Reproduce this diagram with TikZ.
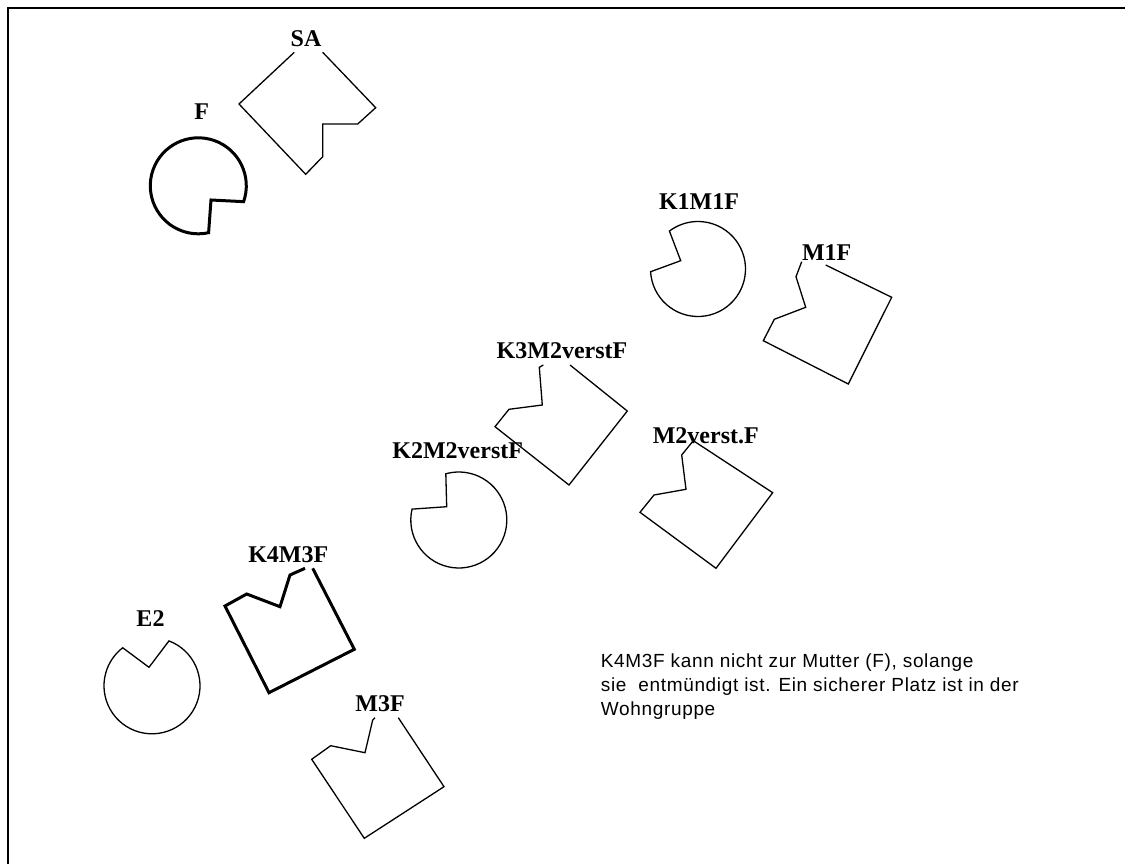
\documentclass[tikz,border=0pt]{standalone}
\usepackage{fontspec}
\setmainfont{Liberation Serif}
\newfontfamily\notefont{Liberation Sans}[LetterSpace=3.5]
\tikzset{
  lbl/.style={inner sep=0pt, anchor=base, font=\bfseries\fontsize{24}{24}\selectfont},
  note/.style={inner sep=0pt, anchor=base west, font=\notefont\fontsize{19}{24}\selectfont},
  thinline/.style={draw=black, line width=1.3pt, line join=miter},
  thickline/.style={draw=black, line width=3pt, line join=miter},
  frameline/.style={draw=black, line width=2pt}
}
\begin{document}
\begin{tikzpicture}[x=1pt, y=-1pt]
\useasboundingbox (0,0) rectangle (1125,864);
\fill[white] (0,0) rectangle (1125,864);

% frame (only top and left edges lie inside the page)
\draw[frameline] (7.7,870) -- (7.7,7.7) -- (1130,7.7);

% --- persons: circles with a notch ---
% F
\path[thickline] (198.3,185.8) ++(19.3:48) arc[start angle=19.3, end angle=-282.4, radius=48]
  -- (211,200) -- cycle;
% K1M1F
\path[thinline] (698,269) ++(176.7:47.5) arc[start angle=176.7, end angle=-127, radius=47.5]
  -- (680.7,260.7) -- cycle;
% K2M2verstF
\path[thinline] (458.8,520) ++(193.1:48) arc[start angle=193.1, end angle=-105.7, radius=48]
  -- (446.7,506.7) -- cycle;
% E2
\path[thinline] (152,685.8) ++(-69.3:48) arc[start angle=-69.3, end angle=232.4, radius=48]
  -- (149,667.3) -- cycle;

% --- persons: squares with a notch ---
% SA
\draw[thinline] (294.3,52.3) -- (239,104) -- (305.7,174.3) -- (322.7,156.7) -- (322.7,124)
  -- (357.7,124) -- (375.7,107.7) -- (322.7,52.3);
% M1F
\draw[thinline] (801.7,261.7) -- (796,276.7) -- (805.7,307.3) -- (774.3,319.3) -- (763.3,340.7)
  -- (848.3,384) -- (891.7,297.3) -- (825.7,265);
% K3M2verstF
\draw[thinline] (543.3,365) -- (539.3,367.3) -- (542.3,405) -- (509,409.3) -- (495,426.7)
  -- (569,485) -- (627.3,411) -- (570,365);
% M2verst.F
\draw[thinline] (693.3,440.7) -- (681.7,455) -- (686,489.3) -- (654,495) -- (640,512.3)
  -- (716,568.3) -- (772.7,492.7) -- cycle;
% K4M3F
\draw[thickline] (305,568.3) -- (290,575) -- (280,606.7) -- (246.7,594) -- (225,606)
  -- (269,692.7) -- (354.3,649.3) -- (312.7,568.3);
% M3F
\draw[thinline] (375,717.7) -- (372.7,720) -- (365,752.7) -- (330.7,745.7) -- (311.7,759.3)
  -- (364.3,838.3) -- (444,786.7) -- (398.3,717.7);

% --- labels ---
\node[lbl] (lSA) at (306,46.7) {SA};
\node[lbl] (lF) at (201.7,120) {F};
\node[lbl] (lK1M1F) at (699,209.3) {K1M1F};
\node[lbl] (lM1F) at (826.7,260) {M1F};
\node[lbl] (lK3M2verstF) at (562,358.3) {K3M2verstF};
\node[lbl] (lK2M2verstF) at (457.7,458.3) {K2M2verstF};
\node[lbl] (lM2verstF) at (705.8,443.3) {M2verst.F};
\node[lbl] (lK4M3F) at (288.3,562.7) {K4M3F};
\node[lbl] (lE2) at (150.5,626) {E2};
\node[lbl] (lM3F) at (380,711.7) {M3F};

% --- note ---
\node[note] (note1) at (600.7,667) {K4M3F kann nicht zur Mutter (F), solange};
\node[note] (note2) at (600.7,691) {sie\ \ entmündigt ist. Ein sicherer Platz ist in der};
\node[note] (note3) at (600.7,715) {Wohngruppe};
\end{tikzpicture}
\end{document}
